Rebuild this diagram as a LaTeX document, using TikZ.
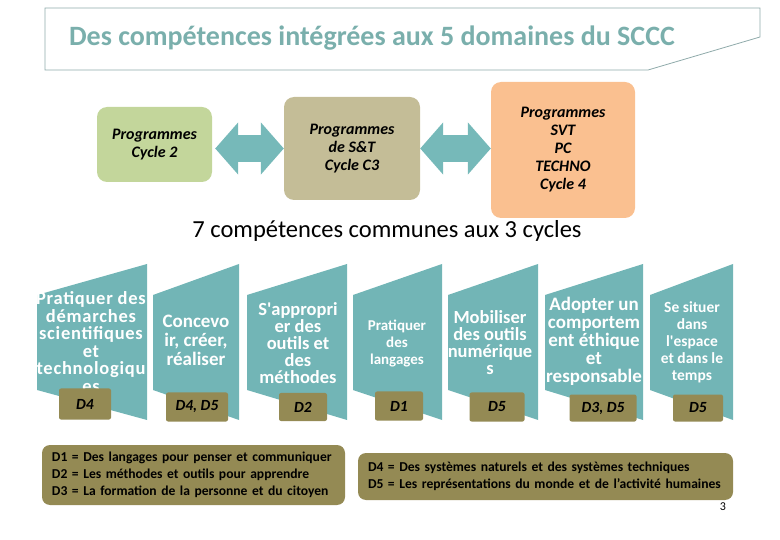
\documentclass[tikz,border=0pt]{standalone}
\usepackage{fontspec}
\setmainfont{Carlito}
\usepackage{xcolor}
\usepackage{tikz}
\usetikzlibrary{arrows.meta}

\definecolor{tealpanel}{HTML}{72B5B6}
\definecolor{tealarrow}{HTML}{76B9B9}
\definecolor{titleteal}{HTML}{7AAFAC}
\definecolor{titleline}{HTML}{8FAAAA}
\definecolor{cyclegreen}{HTML}{C3D69B}
\definecolor{cycletan}{HTML}{C4BD97}
\definecolor{cycleorange}{HTML}{FAC090}
\definecolor{domolive}{HTML}{948A54}

\tikzset{
  cyclebox/.style={rounded corners=10pt, align=center, inner sep=0pt,
    font=\fontsize{16}{18}\selectfont\bfseries\itshape},
  twoway/.style={line width=27pt, tealarrow,
    {Triangle[length=23pt,width=51pt]}-{Triangle[length=23pt,width=51pt]}},
  panel/.style={fill=tealpanel},
  paneltext/.style={text=white, align=center, inner sep=0pt},
  domtag/.style={fill=domolive, rounded corners=2pt, inner sep=0pt,
    font=\fontsize{15.5}{17}\selectfont\bfseries\itshape},
  legend/.style={fill=domolive, rounded corners=8pt, align=left, inner xsep=10pt,
    inner ysep=0pt, font=\fontsize{13.6}{17}\selectfont\bfseries}
}

\begin{document}
\begin{tikzpicture}[x=1pt,y=-1pt]
\useasboundingbox (0,0) rectangle (780,540);

% title
\draw[titleline, line width=0.8pt] (45,8) -- (760,8) -- (760,37) -- (648,70) -- (45,70) -- cycle;
\node[text=titleteal, font=\fontsize{28}{32}\selectfont\bfseries] (title) at (372,38) {Des compétences intégrées aux 5 domaines du SCCC};

% the three cycles
\node[cyclebox, fill=cyclegreen, minimum width=115pt, minimum height=75pt] (cyc2) at (154.5,144.5) {Programmes\\Cycle 2};
\node[cyclebox, fill=cycletan, minimum width=136pt, minimum height=103pt] (cyc3) at (352,148.5) {Programmes\\de S\&T\\Cycle C3};
\node[cyclebox, fill=cycleorange, minimum width=144pt, minimum height=136pt] (cyc4) at (563,150) {Programmes\\SVT\\PC\\TECHNO\\Cycle 4};
\draw[twoway, shorten <=3pt] (cyc2.east |- cyc3.west) -- (cyc3.west);
\draw[twoway] (cyc3.east) -- (cyc4.west |- cyc3.east);

\node[font=\fontsize{24.5}{28}\selectfont] (seven) at (387,231) {7 compétences communes aux 3 cycles};

% panels
\fill[panel] (37,295) -- (147,264) -- (147,420) -- (37,390) -- cycle;
\node[paneltext, font=\fontsize{18.5}{17.5}\selectfont\bfseries\addfontfeatures{LetterSpace=4}] (comp1) at (91,342) {Pratiquer des\\démarches\\scientifiques\\et\\technologiqu\\es};
\node[domtag, minimum width=52pt, minimum height=31pt] (dom1) at (85,404) {D4};

\fill[panel] (153,295) -- (239,264) -- (239,420) -- (153,390) -- cycle;
\node[paneltext, font=\fontsize{19}{19}\selectfont\bfseries] (comp2) at (196,340) {Concevo\\ir, créer,\\réaliser};
\node[domtag, minimum width=62pt, minimum height=29pt] (dom2) at (197,407) {D4, D5};

\fill[panel] (247,295) -- (347,264) -- (347,420) -- (247,390) -- cycle;
\node[paneltext, font=\fontsize{18.5}{17}\selectfont\bfseries] (comp3) at (298,343) {S\textquotesingle appropri\\er des\\outils et\\des\\méthodes};
\node[domtag, minimum width=48pt, minimum height=28pt] (dom3) at (303,407) {D2};

\fill[panel] (353,295) -- (442,264) -- (442,420) -- (353,390) -- cycle;
\node[paneltext, font=\fontsize{15}{17}\selectfont\bfseries] (comp4) at (397,343) {Pratiquer\\des\\langages};
\node[domtag, minimum width=48pt, minimum height=29pt] (dom4) at (399,406) {D1};

\fill[panel] (448,295) -- (538,264) -- (538,420) -- (448,390) -- cycle;
\node[paneltext, font=\fontsize{18.5}{17}\selectfont\bfseries] (comp5) at (490,343) {Mobiliser\\des outils\\numérique\\s};
\node[domtag, minimum width=55pt, minimum height=29pt] (dom5) at (497,407) {D5};

\fill[panel] (545,295) -- (643,264) -- (643,420) -- (545,390) -- cycle;
\node[paneltext, font=\fontsize{19}{18}\selectfont\bfseries] (comp6) at (594,341) {Adopter un\\comportem\\ent éthique\\et\\responsable};
\node[domtag, minimum width=67pt, minimum height=27pt] (dom6) at (603,408) {D3, D5};

\fill[panel] (650,295) -- (733,264) -- (733,420) -- (650,390) -- cycle;
\node[paneltext, font=\fontsize{15.5}{17}\selectfont\bfseries] (comp7) at (692,342) {Se situer\\dans\\l\textquotesingle espace\\et dans le\\temps};
\node[domtag, minimum width=50pt, minimum height=27pt] (dom7) at (698,408) {D5};

% legends
\node[legend, text width=283pt, minimum height=60pt] (key1) at (193.5,475) {D1 = Des langages pour penser et communiquer\\D2 = Les méthodes et outils pour apprendre\\D3 = La formation de la personne et du citoyen};
\node[legend, text width=355pt, minimum height=47pt] (key2) at (545.5,476.5) {D4 = Des systèmes naturels et des systèmes techniques\\D5 = Les représentations du monde et de l’activité humaines};
\node[font=\fontsize{12}{14}\selectfont] (pagenum) at (723,507) {3};
\end{tikzpicture}
\end{document}
